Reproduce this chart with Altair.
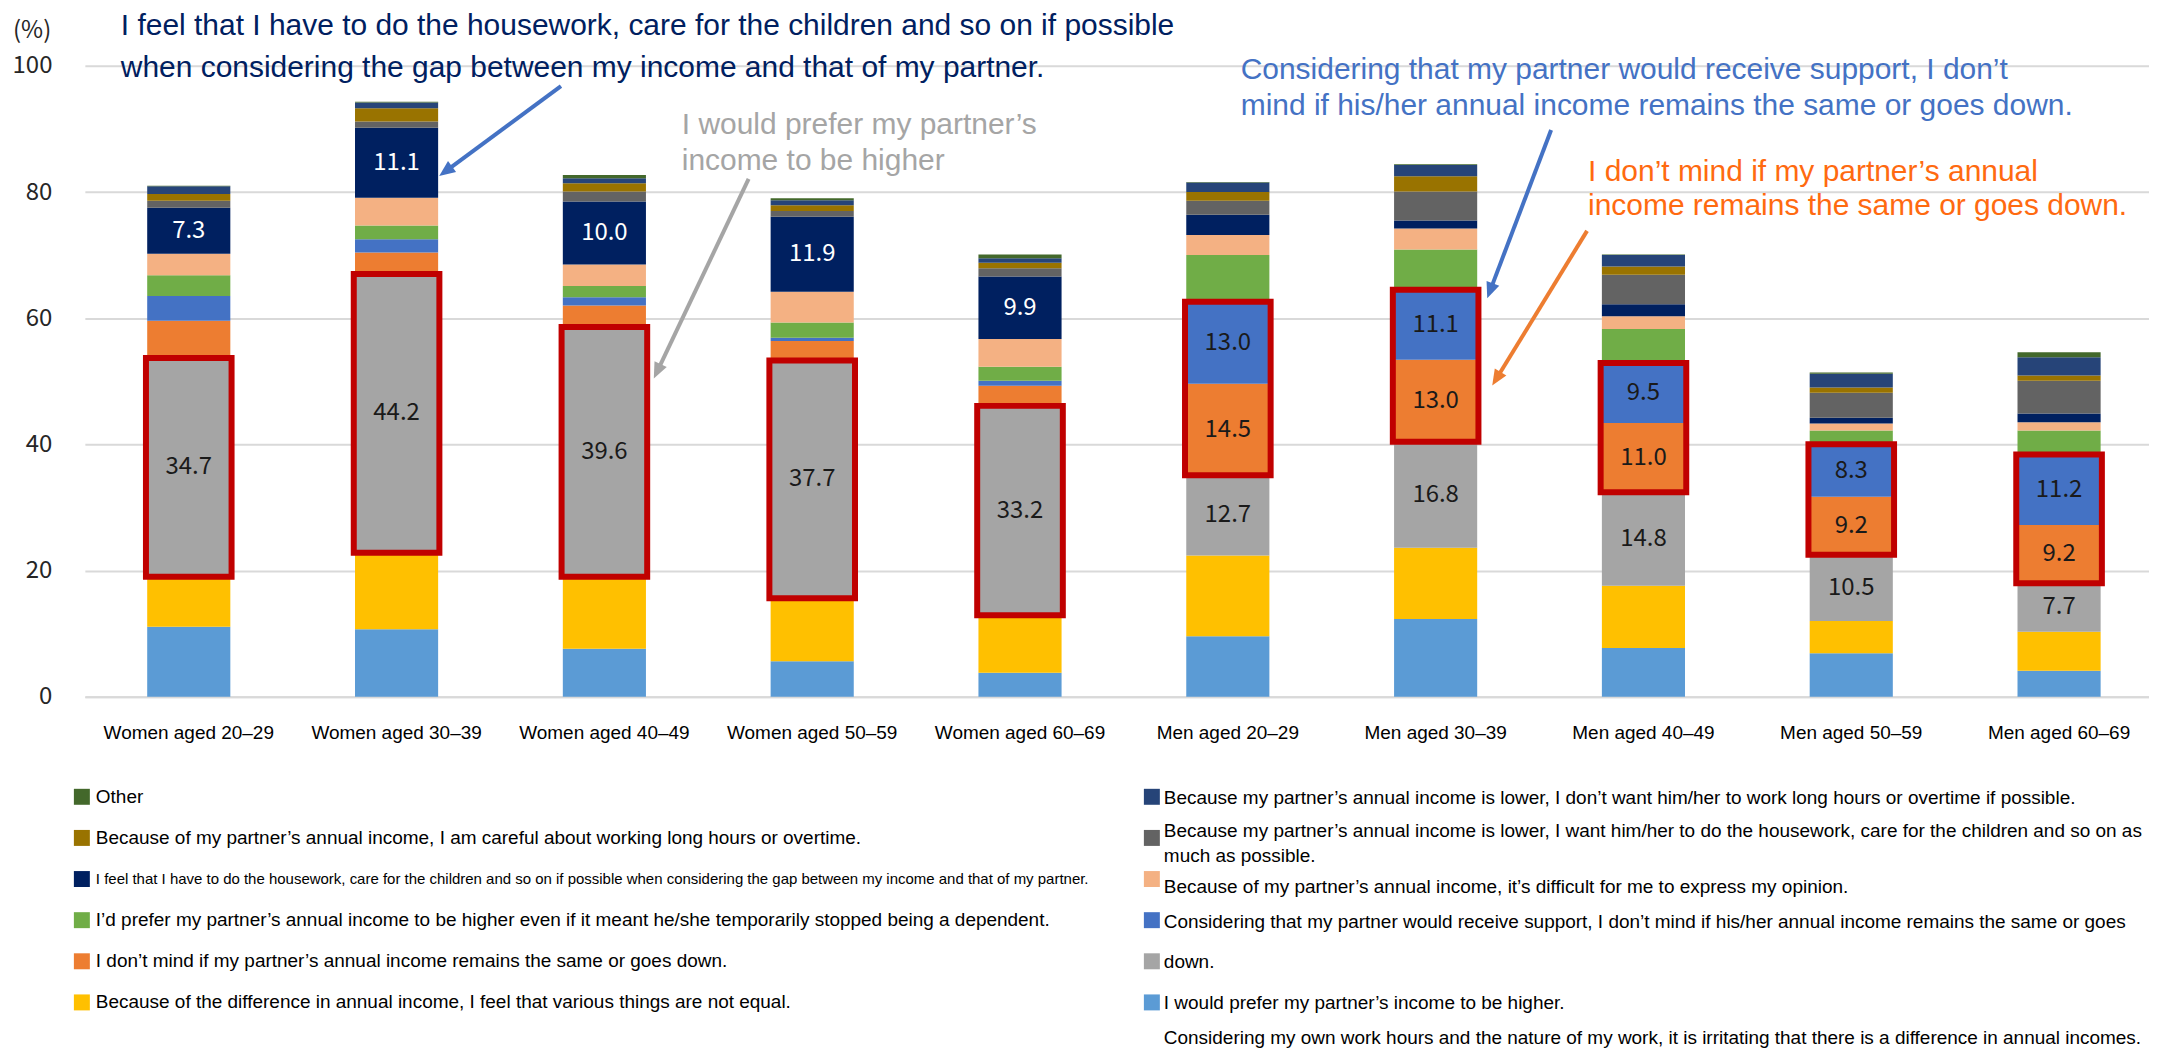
import math
import altair as alt
import pandas as pd

# ---------------- data ----------------
categories = [
    "Women aged 20–29", "Women aged 30–39", "Women aged 40–49", "Women aged 50–59", "Women aged 60–69",
    "Men aged 20–29", "Men aged 30–39", "Men aged 40–49", "Men aged 50–59", "Men aged 60–69",
]

# series listed bottom -> top of the stack
series_names = [
    "Considering my own work hours and the nature of my work, it is irritating that there is a difference in annual incomes.",
    "Because of the difference in annual income, I feel that various things are not equal.",
    "I would prefer my partner’s income to be higher.",
    "I don’t mind if my partner’s annual income remains the same or goes down.",
    "Considering that my partner would receive support, I don’t mind if his/her annual income remains the same or goes down.",
    "I’d prefer my partner’s annual income to be higher even if it meant he/she temporarily stopped being a dependent.",
    "Because of my partner’s annual income, it’s difficult for me to express my opinion.",
    "I feel that I have to do the housework, care for the children and so on if possible when considering the gap between my income and that of my partner.",
    "Because my partner’s annual income is lower, I want him/her to do the housework, care for the children and so on as much as possible.",
    "Because of my partner’s annual income, I am careful about working long hours or overtime.",
    "Because my partner’s annual income is lower, I don’t want him/her to work long hours or overtime if possible.",
    "Other",
]
series_colors = [
    "#5B9BD5", "#FFC000", "#A5A5A5", "#ED7D31", "#4472C4", "#70AD47",
    "#F4B183", "#002060", "#636363", "#997300", "#264478", "#43682B",
]

v_irritating = [11.1, 10.7, 7.6, 5.6, 3.8, 9.6, 12.3, 7.7, 6.9, 4.1]
v_not_equal = [7.9, 12.1, 11.4, 10.0, 9.1, 12.8, 11.3, 9.9, 5.1, 6.2]
v_prefer_higher = [34.7, 44.2, 39.6, 37.7, 33.2, 12.7, 16.8, 14.8, 10.5, 7.7]
v_dont_mind = [5.9, 3.4, 3.4, 3.1, 3.2, 14.5, 13.0, 11.0, 9.2, 9.2]
v_support = [3.9, 2.1, 1.3, 0.5, 0.8, 13.0, 11.1, 9.5, 8.3, 11.2]
v_prefer_even_if = [3.3, 2.2, 1.8, 2.4, 2.2, 7.4, 6.4, 5.4, 2.2, 3.8]
v_opinion = [3.4, 4.4, 3.4, 4.9, 4.4, 3.2, 3.3, 2.0, 1.1, 1.3]
v_housework_gap = [7.3, 11.1, 10.0, 11.9, 9.9, 3.2, 1.3, 1.9, 0.9, 1.4]
v_want_housework = [1.1, 1.0, 1.6, 0.9, 1.3, 2.2, 4.6, 4.7, 4.0, 5.2]
v_careful_overtime = [1.1, 2.1, 1.3, 0.9, 0.9, 1.4, 2.4, 1.3, 0.8, 0.8]
v_no_long_hours = [1.2, 0.9, 0.8, 0.8, 0.7, 1.5, 1.8, 1.8, 2.2, 2.9]
v_other = [0.1, 0.1, 0.5, 0.3, 0.6, 0.1, 0.1, 0.1, 0.2, 0.8]

series_values = [
    v_irritating, v_not_equal, v_prefer_higher, v_dont_mind, v_support, v_prefer_even_if,
    v_opinion, v_housework_gap, v_want_housework, v_careful_overtime, v_no_long_hours, v_other,
]

# which segments carry a value label / a red box (series indices)
label_series_women = [2, 7]
label_series_men = [2, 3, 4]
box_series_women = [2]
box_series_men = [3, 4]

annotation_texts = [
    ["I feel that I have to do the housework, care for the children and so on if possible",
     "when considering the gap between my income and that of my partner."],
    ["I would prefer my partner’s", "income to be higher"],
    ["Considering that my partner would receive support, I don’t",
     "mind if his/her annual income remains the same or goes down."],
    ["I don’t mind if my partner’s annual", "income remains the same or goes down."],
]
annotation_colors = ["#002060", "#A5A5A5", "#4472C4", "#FF6A10"]
arrow_colors = ["#4472C4", "#A5A5A5", "#4472C4", "#ED7D31"]

# ---------------- layout (pixels, relative to plot area) ----------------
W, H = 2068, 632
X_RANGE = 2082
annotation_pos = [(36, -30.5, 42), (598, 68.3, 36), (1158, 13.6, 36), (1506, 115.3, 34)]  # x, first baseline, line step
arrow_pos = [((477, 20.3), (355, 110.3)), ((665, 113.3), (570, 313.3)),
             ((1469, 64.3), (1405, 232.8)), ((1505, 165.3), (1410, 320.3))]
LEG_LEFT_MARK_X, LEG_LEFT_TEXT_X = -3, 11
LEG_RIGHT_MARK_X, LEG_RIGHT_TEXT_X = 1069, 1081
LEG_ROW0, LEG_ROW_STEP = 732.3, 41.2
right_line_y = [733.3, 766.3, 791.3, 822.3, 857.3, 898.3, 939.3, 974.3]

# ---------------- tables ----------------
rows, labels, boxes = [], [], []
for ci, cat in enumerate(categories):
    women = ci < 5
    cum = 0.0
    seg = {}
    for si, name in enumerate(series_names):
        v = series_values[si][ci]
        seg[si] = (cum, cum + v)
        rows.append({"category": cat, "series": name, "y0": cum, "y1": cum + v, "order": si})
        cum += v
    for si in (label_series_women if women else label_series_men):
        y0, y1 = seg[si]
        labels.append({"category": cat, "mid": (y0 + y1) / 2, "txt": f"{series_values[si][ci]:.1f}",
                       "col": "#FFFFFF" if si == 7 else "#1A1A1A"})
    bs = box_series_women if women else box_series_men
    boxes.append({"category": cat, "y0": seg[bs[0]][0], "y1": seg[bs[-1]][1]})

df = pd.DataFrame(rows)
df_lab = pd.DataFrame(labels)
df_box = pd.DataFrame(boxes)

ann_rows = []
for (x, y, step), lines, col in zip(annotation_pos, annotation_texts, annotation_colors):
    for k, line in enumerate(lines):
        ann_rows.append({"px": x, "py": y + k * step, "txt": line, "col": col})
df_ann = pd.DataFrame(ann_rows)

rule_rows, head_rows = [], []
for ((sx, sy), (tx, ty)), col in zip(arrow_pos, arrow_colors):
    L = math.hypot(tx - sx, ty - sy)
    ux, uy = (tx - sx) / L, (ty - sy) / L
    ang = (math.degrees(math.atan2(ux, -uy)) + 360) % 360
    rule_rows.append({"px": sx, "py": sy, "px2": tx - ux * 10, "py2": ty - uy * 10, "col": col})
    head_rows.append({"px": tx - ux * 8, "py": ty - uy * 8, "ang": ang, "col": col})
df_rule = pd.DataFrame(rule_rows)
df_head = pd.DataFrame(head_rows)

order_rev = list(range(len(series_names)))[::-1]
left_idx, right_idx = order_rev[0::2], order_rev[1::2]
mark_rows, leg_text = [], []
for r, si in enumerate(left_idx):
    y = LEG_ROW0 + r * LEG_ROW_STEP
    mark_rows.append({"px": LEG_LEFT_MARK_X, "py": y, "col": series_colors[si]})
    leg_text.append({"px": LEG_LEFT_TEXT_X, "py": y, "txt": series_names[si], "fs": 15 if si == 7 else 19})
for r, si in enumerate(right_idx):
    y = LEG_ROW0 + r * LEG_ROW_STEP
    mark_rows.append({"px": LEG_RIGHT_MARK_X, "py": y, "col": series_colors[si]})
# right column text, wrapped as in the original legend box
right_lines = []
for si in right_idx:
    name = series_names[si]
    if si == 8:
        right_lines += [name[: name.index(" much")], name[name.index("much"):]]
    elif si == 4:
        right_lines += [name[: name.index(" down.")], "down."]
    else:
        right_lines.append(name)
for y, line in zip(right_line_y, right_lines):
    leg_text.append({"px": LEG_RIGHT_TEXT_X, "py": y, "txt": line, "fs": 19})
df_mark = pd.DataFrame(mark_rows)
df_leg = pd.DataFrame(leg_text)
df_pct = pd.DataFrame([{"px": -72, "py": -35, "txt": "(%)"}])

# ---------------- encodings ----------------
x_enc = alt.X(
    "category:N", sort=categories,
    scale=alt.Scale(range=[0, X_RANGE], paddingInner=0.6, paddingOuter=0.3),
    axis=alt.Axis(title=None, labelAngle=0, labelFont="Liberation Sans", labelFontSize=19,
                  labelColor="#000000", labelPadding=27, ticks=False, domain=True,
                  domainColor="#D9D9D9", domainWidth=2, grid=False, labelLimit=0),
)
y_scale = alt.Scale(domain=[0, 100], nice=False)
y_axis = alt.Axis(title=None, values=[0, 20, 40, 60, 80, 100], grid=True, gridColor="#D9D9D9",
                  gridWidth=2, ticks=False, domain=False, labelFont="Noto Sans CJK JP",
                  labelFontSize=24, labelColor="#262626", labelPadding=33)

bars = alt.Chart(df).mark_bar().encode(
    x=x_enc,
    y=alt.Y("y1:Q", scale=y_scale, axis=y_axis),
    y2="y0:Q",
    color=alt.Color("series:N", scale=alt.Scale(domain=series_names, range=series_colors), legend=None),
)

box = alt.Chart(df_box).mark_bar(
    fillOpacity=0, stroke="#C00000", strokeWidth=6, width=alt.RelativeBandSize(1.03)
).encode(x=x_enc, y=alt.Y("y1:Q", scale=y_scale, axis=y_axis), y2="y0:Q")

vlabels = alt.Chart(df_lab).mark_text(font="Noto Sans CJK JP", fontSize=24, baseline="middle").encode(
    x=x_enc, y=alt.Y("mid:Q", scale=y_scale, axis=y_axis), text="txt:N",
    color=alt.Color("col:N", scale=None),
)

px = alt.X("px:Q", scale=None, axis=None)
py = alt.Y("py:Q", scale=None, axis=None)

ann = alt.Chart(df_ann).mark_text(font="Liberation Sans", fontSize=30, align="left", baseline="alphabetic").encode(
    x=px, y=py, text="txt:N", color=alt.Color("col:N", scale=None))

rules = alt.Chart(df_rule).mark_rule(strokeWidth=4).encode(
    x=px, y=py, x2="px2:Q", y2="py2:Q", color=alt.Color("col:N", scale=None))

heads = alt.Chart(df_head).mark_point(
    shape="M0,-1L0.85,1L-0.85,1Z", filled=True, size=256, opacity=1
).encode(x=px, y=py, angle=alt.Angle("ang:Q", scale=None), color=alt.Color("col:N", scale=None))

leg_marks = alt.Chart(df_mark).mark_square(size=256, opacity=1).encode(
    x=px, y=py, color=alt.Color("col:N", scale=None))

leg_texts = alt.Chart(df_leg).mark_text(font="Liberation Sans", align="left", baseline="middle", color="#000000").encode(
    x=px, y=py, text="txt:N", size=alt.Size("fs:Q", scale=None))

pct = alt.Chart(df_pct).mark_text(font="Noto Sans CJK JP", fontSize=24, align="left", baseline="middle",
                                  color="#262626").encode(x=px, y=py, text="txt:N")

chart = alt.layer(bars, box, vlabels, rules, heads, ann, leg_marks, leg_texts, pct).properties(
    width=W, height=H,
    autosize=alt.AutoSizeParams(type="none"),
    padding={"left": 77, "top": 57, "right": 0, "bottom": 351},
).configure_view(stroke=None)

chart.save("out.html", embed_options={"renderer": "svg", "actions": False})
